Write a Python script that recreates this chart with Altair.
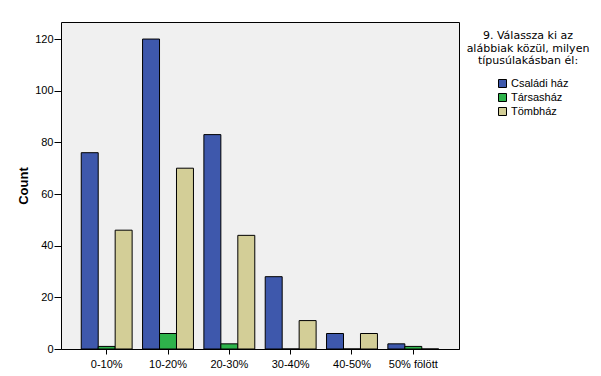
import altair as alt
import pandas as pd

groups = ["0-10%", "10-20%", "20-30%", "30-40%", "40-50%", "50% fölött"]
series = ["Családi ház", "Társasház", "Tömbház"]
csaladi = [76, 120, 83, 28, 6, 2]
tarsas = [1, 6, 2, 0, 0, 1]
tomb = [46, 70, 44, 11, 6, 0]
colors = ["#3E58AC", "#2EB34B", "#D3CE97"]
legend_title = ["9. Válassza ki az", "alábbiak közül, milyen", "típusúlakásban él:"]
y_ticks = [0, 20, 40, 60, 80, 100, 120]

rows = []
for name, vals in zip(series, [csaladi, tarsas, tomb]):
    for g, v in zip(groups, vals):
        rows.append({"group": g, "type": name, "count": v})
df = pd.DataFrame(rows)

FONT = "Arial, Liberation Sans"

bars = alt.Chart(df).mark_bar(stroke="black", strokeWidth=1).encode(
    x=alt.X("group:N", sort=groups,
            scale=alt.Scale(paddingInner=0.17, paddingOuter=0.33),
            axis=alt.Axis(title=None, labelAngle=0, tickSize=5, labelPadding=4,
                          labelFontSize=11, labelFont=FONT, labelColor="black",
                          domainColor="black", tickColor="black", grid=False)),
    xOffset=alt.XOffset("type:N", sort=series, scale=alt.Scale(domain=series, paddingInner=0, paddingOuter=0)),
    y=alt.Y("count:Q", scale=alt.Scale(domain=[0, 126.6], nice=False),
            axis=alt.Axis(values=y_ticks, title="Count", tickSize=7, labelPadding=1,
                          labelFontSize=11, labelFont=FONT, labelColor="black",
                          tickColor="black", domain=False, grid=False,
                          titleFont=FONT, titleFontSize=13, titleFontWeight="bold",
                          titleColor="black", titlePadding=4)),
    fill=alt.Fill("type:N", sort=series,
                  scale=alt.Scale(domain=series, range=colors),
                  legend=alt.Legend(title=None, orient="none", legendX=436, legendY=56,
                                    symbolType="square", symbolSize=64,
                                    symbolStrokeColor="black", symbolStrokeWidth=1,
                                    labelFontSize=11, labelFont=FONT, labelColor="black",
                                    labelOffset=3, rowPadding=1, padding=0)),
)

title_text = alt.Chart(pd.DataFrame({"k": [0]})).mark_text(
    text=legend_title, align="center", baseline="top", fontSize=11, lineHeight=12.5,
    font="DejaVu Sans", color="black"
).encode(x=alt.value(467), y=alt.value(8))

chart = alt.layer(bars, title_text).properties(
    width=398, height=327,
    autosize=alt.AutoSizeParams(type="none"),
    padding={"left": 61, "top": 22, "right": 142, "bottom": 27},
    background="white",
).configure_view(fill="#F0F0F0", stroke="black", strokeWidth=1)

chart.save("out.html", embed_options={"renderer": "svg", "actions": False})
